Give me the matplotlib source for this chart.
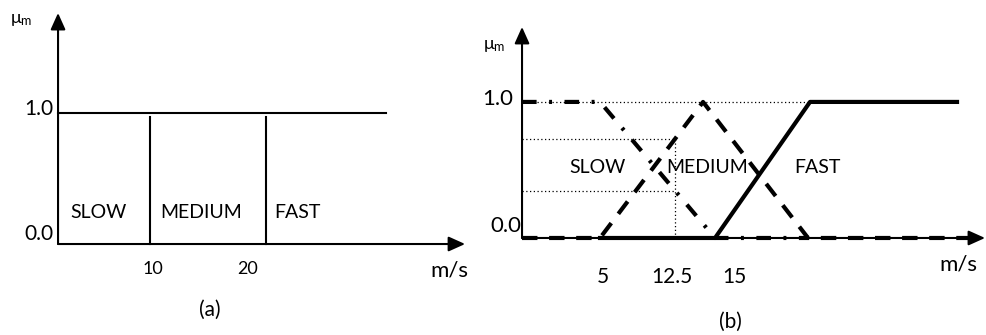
import numpy as np
import matplotlib.pyplot as plt

plt.rcParams['font.family'] = ['Lato', 'DejaVu Sans']

# --- (a) conjuntos clássicos ---
crisp_edges = [9.7, 21.9]        # fronteiras entre classes (m/s)
crisp_top_end = 34.5             # fim da linha de pertinência 1.0
crisp_names = ['SLOW', 'MEDIUM', 'FAST']
crisp_name_x = [1.3, 10.8, 22.8]
crisp_ticks = [10, 20]

# --- (b) conjuntos fuzzy ---
x_start = -2.8
slow_x = [x_start, 5, 16.5, 25.8]
slow_y = [1, 1, 0, 0]
medium_x = [x_start, 5, 15.3, 25.8, 42.5]
medium_y = [0, 0, 1, 0, 0]
fast_x = [5, 16.5, 26, 40.7]
fast_y = [0, 0, 1, 1]
speed_sample = 12.5
fuzzy_names = ['SLOW', 'MEDIUM', 'FAST']
fuzzy_name_x = [4.8, 15.7, 26.7]
fuzzy_ticks = [5, 12.5, 15]
fuzzy_tick_shift = [3, -3, 34]   # deslocamento horizontal dos rótulos (px)

fig = plt.figure(figsize=(9.87, 3.35), dpi=100)
ax_a = fig.add_axes([0.0588, 0.2716, 0.4124, 0.6896])
ax_b = fig.add_axes([0.5289, 0.2896, 0.4691, 0.6299])
ax_a.set_xlim(0, 42.84)
ax_a.set_ylim(0, 1.763)
ax_b.set_xlim(x_start, 43.5)
ax_b.set_ylim(0, 1.551)


def eixos_com_seta(ax, lw, cabeca):
    for fim in [(1, 0), (0, 1)]:
        ax.annotate('', xy=fim, xytext=(0, 0), xycoords='axes fraction',
                    arrowprops=dict(arrowstyle=f'-|>,head_length={cabeca[0]},head_width={cabeca[1]}',
                                    lw=lw, color='black', mutation_scale=10,
                                    shrinkA=0, shrinkB=0))
    ax.axis('off')


def rotulo_y(ax, texto, y, dx, dy, tam):
    ax.annotate(texto, xy=(0, y), xycoords=('axes fraction', 'data'),
                xytext=(dx, dy), textcoords='offset pixels',
                ha='right', va='baseline', fontsize=tam)


def rotulo_x(ax, texto, x, dx, dy, tam):
    ax.annotate(texto, xy=(x, 0), xycoords=('data', 'axes fraction'),
                xytext=(dx, dy), textcoords='offset pixels',
                ha='center', va='center', fontsize=tam)


# (a)
eixos_com_seta(ax_a, 1.5, (1.0, 0.45))
ax_a.plot([0, crisp_top_end], [1, 1], color='black', lw=1.5, clip_on=False)
for xb in crisp_edges:
    ax_a.plot([xb, xb], [0, 0.97], color='black', lw=1.5, clip_on=False)
for nome, xn in zip(crisp_names, crisp_name_x):
    ax_a.text(xn, 0.244, nome, ha='left', va='center', fontsize=14)
for t in crisp_ticks:
    rotulo_x(ax_a, str(t), t, 0, -25, 13)
rotulo_y(ax_a, '1.0', 1.0, -5, -2, 15)
rotulo_y(ax_a, '0.0', 0.0, -5, 4, 15)

# (b)
eixos_com_seta(ax_b, 1.5, (1.0, 0.45))
x_amostra = [x_start, speed_sample]
mu_slow = np.interp(speed_sample, slow_x, slow_y)
mu_medium = np.interp(speed_sample, medium_x, medium_y)
pontilhado = dict(color='black', lw=0.9, ls=(0, (1, 2)), clip_on=False)
ax_b.plot([x_start, fast_x[2]], [1, 1], **pontilhado)
ax_b.plot(x_amostra, [mu_slow, mu_slow], **pontilhado)
ax_b.plot(x_amostra, [mu_medium, mu_medium], **pontilhado)
ax_b.plot([speed_sample, speed_sample], [0, mu_medium], **pontilhado)

ax_b.plot(slow_x, slow_y, color='black', lw=3, ls=(0, (3.5, 3, 0.7, 3)), clip_on=False)
ax_b.plot(medium_x, medium_y, color='black', lw=3, ls=(0, (3.7, 2.8)), clip_on=False)
ax_b.plot(fast_x, fast_y, color='black', lw=3, clip_on=False)

for nome, xn in zip(fuzzy_names, fuzzy_name_x):
    ax_b.text(xn, 0.515, nome, ha='center', va='center', fontsize=14)
for t, dx in zip(fuzzy_ticks, fuzzy_tick_shift):
    rotulo_x(ax_b, f'{t:g}', t, dx, -39, 15)
rotulo_y(ax_b, '1.0', 1.0, -9, -3, 16)
rotulo_y(ax_b, '0.0', 0.0, -1, 6, 16)

# rótulos gerais
fig.text(0.0101, 0.940, r'$\mathregular{\mu_m}$', ha='left', va='center', fontsize=13)
fig.text(0.4894, 0.8627, r'$\mathregular{\mu_m}$', ha='left', va='center', fontsize=13)
fig.text(0.4742, 0.194, 'm/s', ha='right', va='center', fontsize=16)
fig.text(0.9899, 0.209, 'm/s', ha='right', va='center', fontsize=16)
fig.text(0.2128, 0.0746, '(a)', ha='center', va='center', fontsize=15)
fig.text(0.7396, 0.0388, '(b)', ha='center', va='center', fontsize=15)

fig.savefig('out.png', dpi=100)
